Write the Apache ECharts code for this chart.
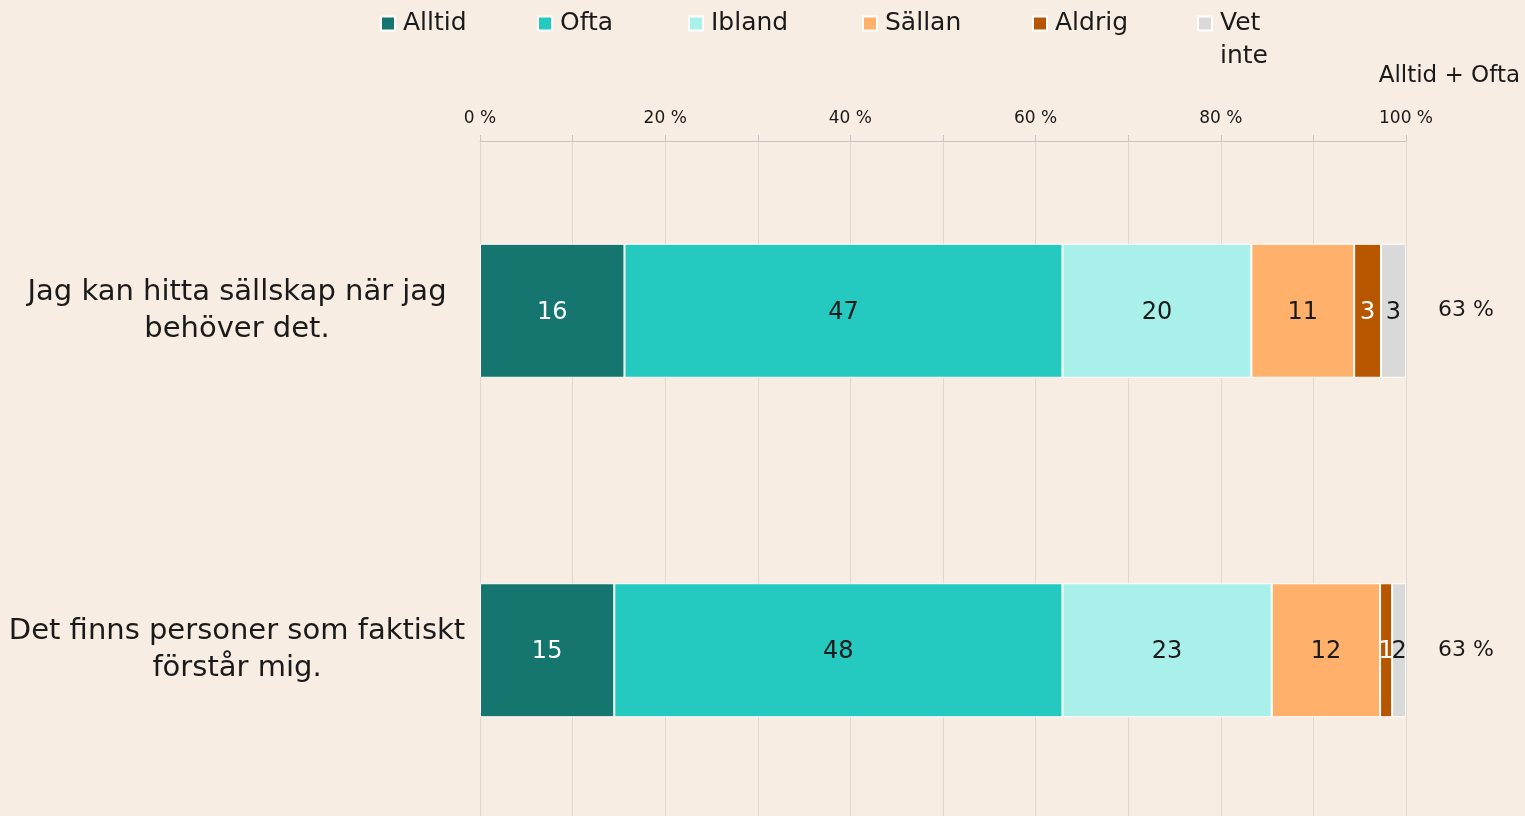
<!DOCTYPE html>
<html>
<head>
<meta charset="utf-8">
<script src="https://cdn.jsdelivr.net/npm/echarts@6/dist/echarts.min.js"></script>
<style>
  html, body { margin: 0; padding: 0; background: #F8EDE3; }
  #chart { width: 1525px; height: 816px; }
</style>
</head>
<body>
<div id="chart"></div>
<script>
// statements (top to bottom)
const categories = [
  'Jag kan hitta sällskap när jag\nbehöver det.',
  'Det finns personer som faktiskt\nförstår mig.'
]
const seriesNames = ['Alltid', 'Ofta', 'Ibland', 'Sällan', 'Aldrig', 'Vet inte']
// shares in percent
const alltid = [15.6, 14.5]
const ofta = [47.3, 48.4]
const ibland = [20.4, 22.6]
const sallan = [11.1, 11.7]
const aldrig = [2.9, 1.3]
const vetInte = [2.7, 1.5]
const tickLabels = ['0 %', '20 %', '40 %', '60 %', '80 %', '100 %']

const colors = ['#14766E', '#24C9BF', '#AAF0EA', '#FFB06A', '#B85600', '#D9D9D9']
const labelColors = ['#fff', '#1a1a1a', '#1a1a1a', '#1a1a1a', '#fff', '#1a1a1a']
const legendLeft = [380, 537, 688, 862, 1032, 1197]
const FONT = 'DejaVu Sans'

const values = [alltid, ofta, ibland, sallan, aldrig, vetInte]
const sums = categories.map((c, i) => Math.round(alltid[i] + ofta[i]) + ' %')

const chart = echarts.init(document.getElementById('chart'))

chart.setOption({
  backgroundColor: '#F8EDE3',
  textStyle: { fontFamily: FONT },
  title: {
    text: 'Alltid + Ofta',
    right: 0, top: 60,
    textStyle: { fontFamily: FONT, fontSize: 23, fontWeight: 'normal', color: '#1a1a1a' }
  },
  // one legend per item so each sits where Excel put it
  legend: seriesNames.map((n, i) => ({
    data: [n],
    left: legendLeft[i],
    top: n === 'Vet inte' ? -26 : 7,
    padding: 0,
    icon: 'rect',
    itemWidth: 14, itemHeight: 14,
    itemGap: 0,
    selectedMode: false,
    // empty first line keeps "Vet" level with the icon
    formatter: n === 'Vet inte' ? '\nVet\ninte' : '{name}',
    textStyle: {
      fontFamily: FONT, fontSize: 25, color: '#1a1a1a', lineHeight: 33,
      padding: [0, 0, 0, 3]
    }
  })),
  // the plot runs off the bottom edge, so switch off the v6 outer bounds clamp
  grid: { left: 480, width: 926, top: 141, height: 679, outerBoundsMode: 'none' },
  xAxis: {
    type: 'value',
    position: 'top',
    min: 0, max: 100, interval: 10,
    axisLine: { show: true, lineStyle: { color: '#c9c4bf', width: 1 } },
    axisTick: { show: true, interval: 1, length: 6, lineStyle: { color: '#c9c4bf' } },
    splitLine: { show: true, lineStyle: { color: '#ddd8d2', width: 1 } },
    axisLabel: {
      margin: 14,
      fontSize: 17, color: '#1a1a1a', fontFamily: FONT,
      formatter: v => (v % 20 === 0 ? tickLabels[v / 20] : '')
    }
  },
  yAxis: [
    {
      type: 'category',
      data: categories,
      inverse: true,
      axisLine: { show: false },
      axisTick: { show: false },
      axisLabel: {
        margin: 243, align: 'center',
        fontSize: 29, lineHeight: 37, color: '#1a1a1a', fontFamily: FONT
      }
    },
    {
      type: 'category',
      data: sums,
      inverse: true,
      position: 'right',
      axisLine: { show: false },
      axisTick: { show: false },
      axisLabel: { margin: 32, fontSize: 22, color: '#1a1a1a', fontFamily: FONT }
    }
  ],
  series: seriesNames.map((n, i) => ({
    name: n,
    type: 'bar',
    stack: 'total',
    barWidth: 134,
    data: values[i],
    itemStyle: { color: colors[i], borderColor: '#fff', borderWidth: 1 },
    label: {
      show: true,
      position: 'inside',
      offset: [0, 2],
      formatter: p => Math.round(p.value),
      fontSize: 24, color: labelColors[i], fontFamily: FONT
    }
  }))
})
</script>
</body>
</html>
